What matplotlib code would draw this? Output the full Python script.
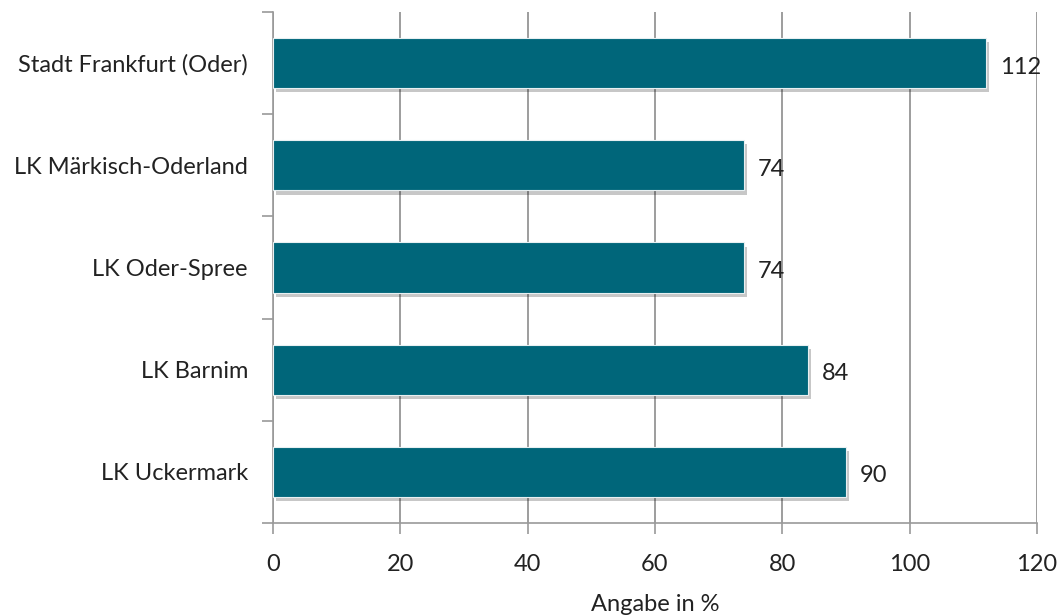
import matplotlib
matplotlib.use('Agg')
import matplotlib.pyplot as plt
from matplotlib import patheffects

regions = ['Stadt Frankfurt (Oder)', 'LK Märkisch-Oderland', 'LK Oder-Spree', 'LK Barnim', 'LK Uckermark']
values = [112, 74, 74, 84, 90]
xticks = [0, 20, 40, 60, 80, 100, 120]

plt.rcParams['font.family'] = ['Lato', 'DejaVu Sans']
fig = plt.figure(figsize=(10.6, 6.15), dpi=100)
ax = fig.add_axes([273/1060, 1 - 523/615, (1037 - 273)/1060, (523 - 12)/615])

pos = list(range(len(regions)))[::-1]
bars = ax.barh(pos, values, height=0.49, color='#00667a', edgecolor='#e8f0f2', linewidth=0.8, zorder=3)
for b in bars:
    b.set_path_effects([patheffects.SimplePatchShadow(offset=(2, -3), shadow_rgbFace='#000000', alpha=0.22),
                        patheffects.Normal()])

for p, v in zip(pos, values):
    ax.text(v + 2.2, p - 0.04, str(v), va='center', ha='left', fontsize=17, color='#222222', zorder=4)

ax.set_xlim(0, 120)
ax.set_ylim(-0.5, 4.5)
ax.set_xticks(xticks)
ax.set_xticklabels([str(t) for t in xticks], fontsize=17, color='#222222')
ax.set_yticks(pos)
ax.set_yticklabels(regions, fontsize=17, color='#222222')
ax.set_yticks([i - 0.5 for i in range(len(regions) + 1)], minor=True)
ax.tick_params(axis='y', which='major', length=0, pad=18)
ax.tick_params(axis='y', which='minor', length=8, width=1.2, color='#9a9a9a', direction='out')
ax.tick_params(axis='x', length=8, width=1.2, color='#9a9a9a', direction='out', pad=14)

ax.grid(axis='x', color='#8c8c8c', linewidth=1.2, zorder=0)
ax.set_axisbelow(True)
for s in ['top', 'right']:
    ax.spines[s].set_visible(False)
for s in ['left', 'bottom']:
    ax.spines[s].set_color('#9a9a9a')
    ax.spines[s].set_linewidth(1.2)

ax.set_xlabel('Angabe in %', fontsize=17, color='#222222', labelpad=14)

fig.savefig('out.png', dpi=100)
